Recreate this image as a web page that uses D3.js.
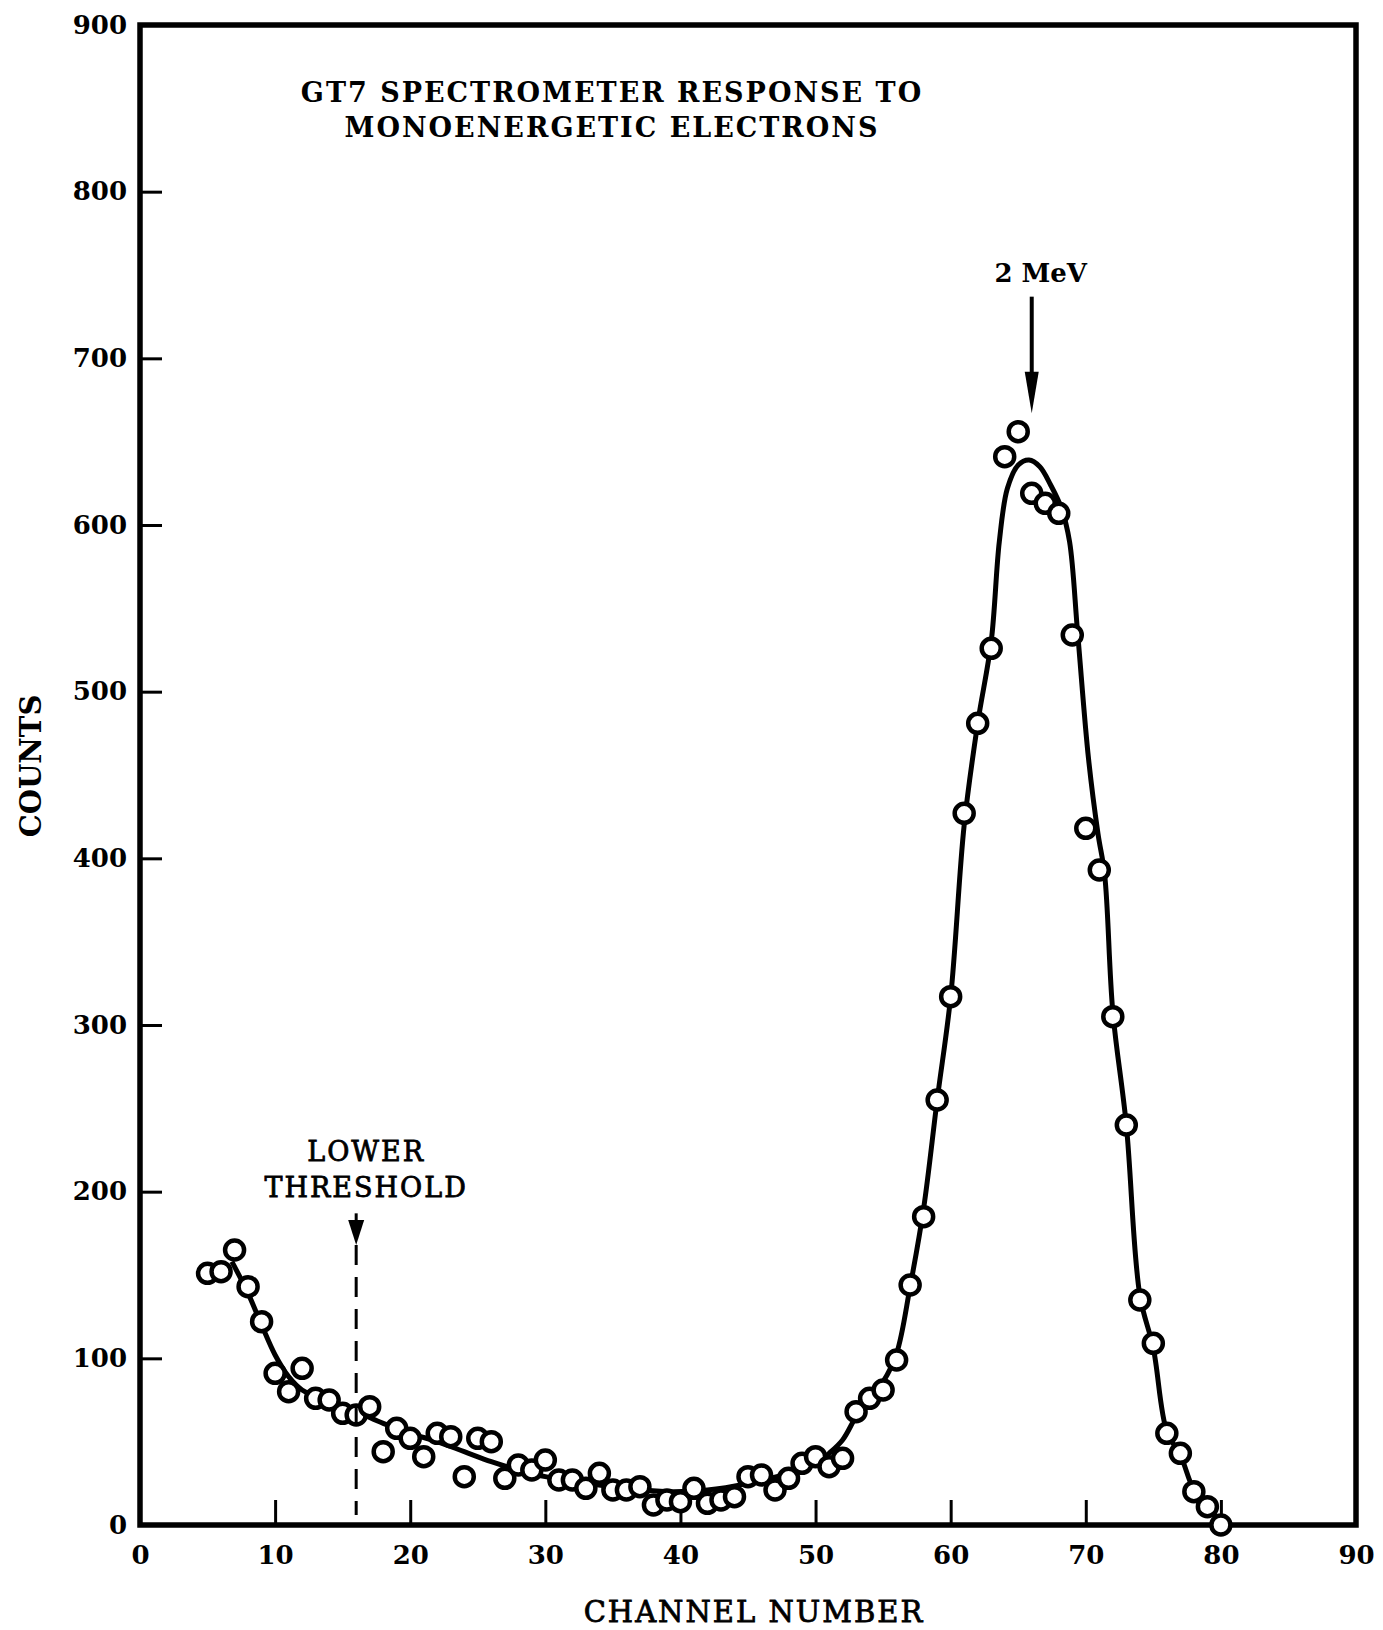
<!DOCTYPE html>
<html>
<head>
<meta charset="utf-8">
<title>GT7 spectrometer response</title>
<style>
  body { margin: 0; background: #fff; }
  svg { display: block; }
  text { font-family: "DejaVu Serif", serif; fill: #000; }
  .tick text { font-size: 26px; font-weight: bold; font-family: "DejaVu Serif", serif; }
  .tick line { stroke: #000; stroke-width: 3px; }
</style>
</head>
<body>
<script src="https://cdn.jsdelivr.net/npm/d3@7/dist/d3.min.js"></script>
<script>
// measured points, one per channel
var channels = [5, 6, 7, 8, 9, 10, 11, 12, 13, 14,
  15, 16, 17, 18, 19, 20, 21, 22, 23, 24,
  25, 26, 27, 28, 29, 30, 31, 32, 33, 34,
  35, 36, 37, 38, 39, 40, 41, 42, 43, 44,
  45, 46, 47, 48, 49, 50, 51, 52, 53, 54,
  55, 56, 57, 58, 59, 60, 61, 62, 63, 64,
  65, 66, 67, 68, 69, 70, 71, 72, 73, 74,
  75, 76, 77, 78, 79, 80];
var counts = [151, 152, 165, 143, 122, 91, 80, 94, 76, 75,
  67, 66, 71, 44, 58, 52, 41, 55, 53, 29,
  52, 50, 28, 36, 33, 39, 27, 27, 22, 31,
  21, 21, 23, 12, 15, 14, 22, 13, 15, 17,
  29, 30, 21, 28, 37, 41, 35, 40, 68, 76,
  81, 99, 144, 185, 255, 317, 427, 481, 526, 641,
  656, 619, 613, 607, 534, 418, 393, 305, 240, 135,
  109, 55, 43, 20, 11, 0];

// hand drawn smooth curve through the points
var fitChannel = [6.8, 8, 9, 10, 11, 12, 14, 16, 18, 20, 22, 24, 26, 28, 30, 33, 36, 39, 42, 45, 48,
  50, 51, 52, 53, 54, 55, 56, 57, 58, 59, 60, 61, 62, 63, 63.6, 64.2, 65, 65.8, 66.6, 67.4, 68.2,
  68.8, 69.4, 70.2, 70.9, 71.4, 72, 73, 74, 75, 76, 77, 78, 79, 80.2];
var fitCounts = [158, 139, 120, 102, 89, 81, 74, 68, 61, 55, 50, 44, 38, 33, 29, 25, 22, 20, 21, 25, 31,
  37, 43, 51, 65, 76, 86, 103, 143, 190, 255, 317, 420, 481, 530, 590, 622, 636, 639, 635, 624, 610,
  590, 535, 460, 415, 390, 308, 240, 138, 106, 56, 42, 21, 11, 0];

var xTicks = [0, 10, 20, 30, 40, 50, 60, 70, 80, 90];
var yTicks = [0, 100, 200, 300, 400, 500, 600, 700, 800, 900];

var titleLines = ["GT7 SPECTROMETER RESPONSE TO", "MONOENERGETIC ELECTRONS"];
var thresholdLines = ["LOWER", "THRESHOLD"];
var thresholdChannel = 16;
var peakChannel = 66;

var width = 1383, height = 1630;
var svg = d3.select("body").append("svg")
  .attr("width", width)
  .attr("height", height);

var x = d3.scaleLinear().domain([0, 90]).range([140, 1356]);
var y = d3.scaleLinear().domain([0, 900]).range([1525, 25]);

// axes, ticks point inward
var xAxis = svg.append("g")
  .attr("transform", "translate(0," + y(0) + ")")
  .call(d3.axisBottom(x).tickValues(xTicks).tickSize(-25).tickPadding(21));
var yAxis = svg.append("g")
  .attr("transform", "translate(" + x(0) + ",0)")
  .call(d3.axisLeft(y).tickValues(yTicks).tickSize(-22).tickPadding(13));
xAxis.select(".domain").remove();
yAxis.select(".domain").remove();
xAxis.selectAll(".tick line").filter(d => d == 0 || d == 90).remove();
yAxis.selectAll(".tick line").filter(d => d == 0 || d == 900).remove();

// frame
svg.append("rect")
  .attr("x", x(0)).attr("y", y(900))
  .attr("width", x(90) - x(0)).attr("height", y(0) - y(900))
  .attr("fill", "none")
  .attr("stroke", "#000")
  .attr("stroke-width", 5.5);

// fitted curve
var line = d3.line()
  .x((d, i) => x(fitChannel[i]))
  .y((d, i) => y(fitCounts[i]))
  .curve(d3.curveCatmullRom.alpha(0.5));
svg.append("path")
  .datum(fitCounts)
  .attr("d", line)
  .attr("fill", "none")
  .attr("stroke", "#000")
  .attr("stroke-width", 5)
  .attr("stroke-linejoin", "round");

// data points
svg.append("g").selectAll("circle")
  .data(counts)
  .enter()
  .append("circle")
  .attr("cx", (d, i) => x(channels[i]))
  .attr("cy", d => y(d))
  .attr("r", 9.5)
  .attr("fill", "#fff")
  .attr("stroke", "#000")
  .attr("stroke-width", 4.5);

// title
svg.append("g").selectAll("text")
  .data(titleLines)
  .enter()
  .append("text")
  .attr("x", 612)
  .attr("y", (d, i) => 102 + i * 35)
  .attr("text-anchor", "middle")
  .attr("font-size", 27)
  .attr("font-weight", "bold")
  .attr("letter-spacing", 2)
  .text(d => d);

// 2 MeV arrow
var px = x(peakChannel);
svg.append("line")
  .attr("x1", px).attr("x2", px)
  .attr("y1", y(737)).attr("y2", y(685))
  .attr("stroke", "#000").attr("stroke-width", 4);
svg.append("path")
  .attr("d", "M" + (px - 7) + "," + y(692) + "L" + (px + 7) + "," + y(692) + "L" + px + "," + y(667) + "Z")
  .attr("fill", "#000");
svg.append("text")
  .attr("x", px + 9).attr("y", 282)
  .attr("text-anchor", "middle")
  .attr("font-size", 26)
  .attr("font-weight", "bold")
  .text("2 MeV");

// lower threshold marker
var tx = x(thresholdChannel);
svg.append("line")
  .attr("x1", tx).attr("x2", tx)
  .attr("y1", y(168)).attr("y2", y(6))
  .attr("stroke", "#000").attr("stroke-width", 3)
  .attr("stroke-dasharray", "20,12");
svg.append("line")
  .attr("x1", tx).attr("x2", tx)
  .attr("y1", y(187)).attr("y2", y(178))
  .attr("stroke", "#000").attr("stroke-width", 3);
svg.append("path")
  .attr("d", "M" + (tx - 8) + "," + y(183) + "L" + (tx + 8) + "," + y(183) + "L" + tx + "," + y(168) + "Z")
  .attr("fill", "#000");
svg.append("g").selectAll("text")
  .data(thresholdLines)
  .enter()
  .append("text")
  .attr("x", tx + 10)
  .attr("y", (d, i) => 1161 + i * 36)
  .attr("text-anchor", "middle")
  .attr("font-size", 27)
  .attr("letter-spacing", 2)
  .attr("stroke", "#000")
  .attr("stroke-width", 0.8)
  .text(d => d);

// axis titles
svg.append("text")
  .attr("x", 754).attr("y", 1622)
  .attr("text-anchor", "middle")
  .attr("font-size", 29)
  .attr("letter-spacing", 2)
  .attr("stroke", "#000")
  .attr("stroke-width", 0.8)
  .text("CHANNEL NUMBER");
svg.append("text")
  .attr("transform", "translate(41,766) rotate(-90)")
  .attr("text-anchor", "middle")
  .attr("font-size", 29)
  .attr("font-weight", "bold")
  .text("COUNTS");
</script>
</body>
</html>
